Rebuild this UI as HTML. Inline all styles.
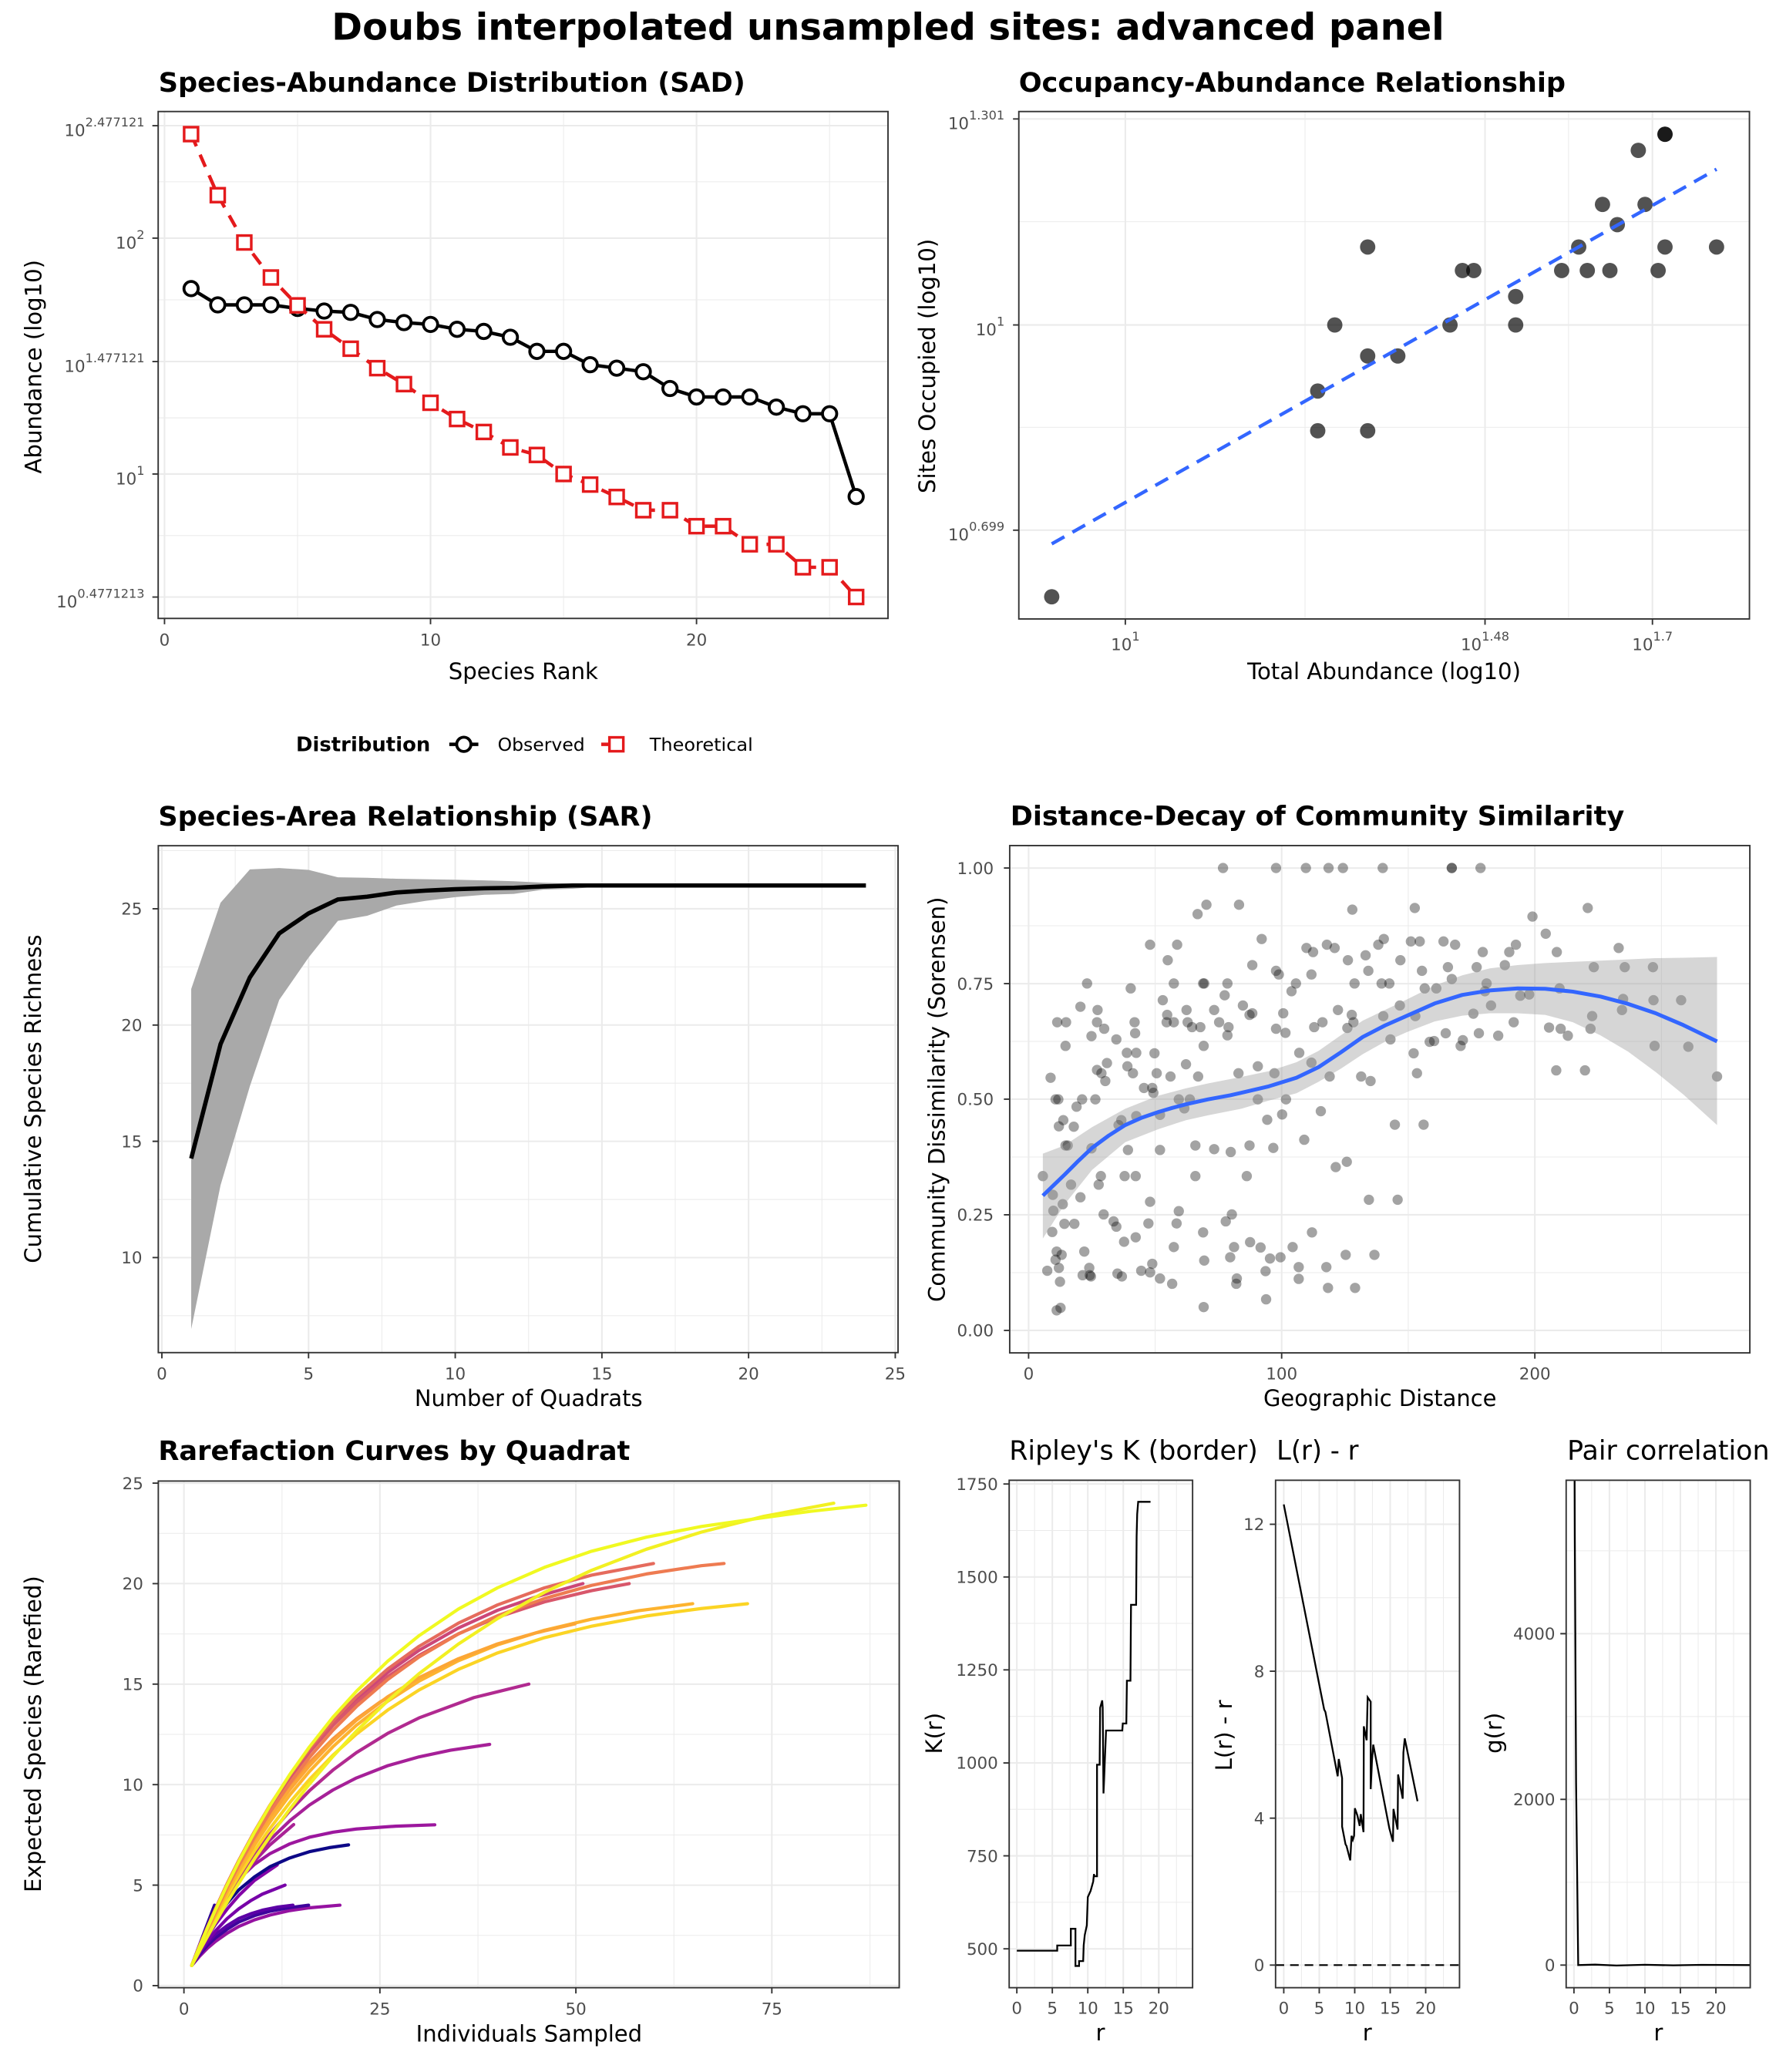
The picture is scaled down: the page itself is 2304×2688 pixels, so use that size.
<!DOCTYPE html>
<html><head><meta charset="utf-8"><style>
html,body{margin:0;padding:0;background:#fff;}
svg{display:block;}
text{font-family:"DejaVu Sans","Liberation Sans",sans-serif;}
.tk{font-size:12.5px;fill:#4D4D4D;}
.at{font-size:17px;fill:#000;}
.pt{font-size:20.5px;font-weight:bold;fill:#000;}
.mn{fill:none;stroke:#EBEBEB;stroke-width:0.6;}
.mj{fill:none;stroke:#EBEBEB;stroke-width:1.2;}
.bd{fill:none;stroke:#333333;stroke-width:1.1;}
.ti{fill:none;stroke:#333333;stroke-width:1.1;}
</style></head><body>
<svg xmlns="http://www.w3.org/2000/svg" width="2304" height="2688">
<rect x="0" y="0" width="2304" height="2688" fill="#fff"/>
<defs>
<clipPath id="cK"><rect x="763.7" y="1120.2" width="138.8" height="384"/></clipPath>
<clipPath id="cL"><rect x="965.3" y="1120.2" width="139.2" height="384"/></clipPath>
<clipPath id="cG"><rect x="1185.2" y="1120.2" width="139.3" height="384"/></clipPath>
<clipPath id="cD"><rect x="764.1" y="639.9" width="560.1" height="383.9"/></clipPath>
</defs>
<g transform="scale(1.7142857)">

<!-- Main title -->
<text x="672" y="30" text-anchor="middle" font-size="28" font-weight="bold" textLength="842" lengthAdjust="spacingAndGlyphs">Doubs interpolated unsampled sites: advanced panel</text>

<!-- ============ SAD ============ -->
<text class="pt" x="120" y="69.5" textLength="444" lengthAdjust="spacingAndGlyphs">Species-Abundance Distribution (SAD)</text>
<path class="mn" d="M225.2 84.4V468M426.5 84.4V468M627.8 84.4V468M119.7 137.6H672M119.7 226.9H672M119.7 316.2H672M119.7 405.3H672"/>
<path class="mj" d="M124.5 84.4V468M325.8 84.4V468M527.1 84.4V468M119.7 95.1H672M119.7 180.2H672M119.7 273.6H672M119.7 358.7H672M119.7 451.8H672"/>
<path class="ti" d="M115.3 95.1H119.7M115.3 180.2H119.7M115.3 273.6H119.7M115.3 358.7H119.7M115.3 451.8H119.7M124.5 468V472.4M325.8 468V472.4M527.1 468V472.4"/>
<g class="tk" text-anchor="end">
<text x="109.4" y="102.9">10<tspan dy="-7.3" font-size="9.4">2.477121</tspan></text>
<text x="109.4" y="188">10<tspan dy="-7.3" font-size="9.4">2</tspan></text>
<text x="109.4" y="281.4">10<tspan dy="-7.3" font-size="9.4">1.477121</tspan></text>
<text x="109.4" y="366.5">10<tspan dy="-7.3" font-size="9.4">1</tspan></text>
<text x="109.4" y="459.6">10<tspan dy="-7.3" font-size="9.4">0.4771213</tspan></text>
</g>
<g class="tk" text-anchor="middle">
<text x="124.5" y="488.6">0</text><text x="325.8" y="488.6">10</text><text x="527.1" y="488.6">20</text>
</g>
<text class="at" x="396" y="514" text-anchor="middle">Species Rank</text>
<text class="at" transform="translate(31.2,277.5) rotate(-90)" text-anchor="middle">Abundance (log10)</text>
<polyline fill="none" stroke="#000" stroke-width="2.6" points="144.6,218.4 164.8,230.7 184.9,230.7 205,230.7 225.2,233.4 245.3,235.4 265.4,236.4 285.5,241.8 305.7,244.1 325.8,245.5 345.9,249.2 366.1,250.8 386.2,255.2 406.3,265.9 426.5,265.9 446.6,276 466.7,278.6 486.8,281.3 507,294 527.1,300.4 547.2,300.4 567.4,300.4 587.5,308.1 607.6,313.1 627.8,313.1 647.9,375.8"/>
<polyline fill="none" stroke="#E41A1C" stroke-width="2.6" stroke-dasharray="10 7" points="144.6,101.5 164.8,147.7 184.9,183.5 205,210 225.2,231.1 245.3,249.2 265.4,263.9 285.5,278.6 305.7,290.7 325.8,304.8 345.9,317.1 366.1,326.9 386.2,338.6 406.3,344.3 426.5,358.7 446.6,366.7 466.7,376.1 486.8,386.1 507,386.1 527.1,398.2 547.2,398.2 567.4,411.9 587.5,411.9 607.6,429.3 627.8,429.3 647.9,451.8"/>
<g fill="#fff" stroke="#000" stroke-width="2.2">
<circle cx="144.6" cy="218.4" r="5.4"/><circle cx="164.8" cy="230.7" r="5.4"/><circle cx="184.9" cy="230.7" r="5.4"/><circle cx="205" cy="230.7" r="5.4"/><circle cx="225.2" cy="233.4" r="5.4"/><circle cx="245.3" cy="235.4" r="5.4"/><circle cx="265.4" cy="236.4" r="5.4"/><circle cx="285.5" cy="241.8" r="5.4"/><circle cx="305.7" cy="244.1" r="5.4"/><circle cx="325.8" cy="245.5" r="5.4"/><circle cx="345.9" cy="249.2" r="5.4"/><circle cx="366.1" cy="250.8" r="5.4"/><circle cx="386.2" cy="255.2" r="5.4"/><circle cx="406.3" cy="265.9" r="5.4"/><circle cx="426.5" cy="265.9" r="5.4"/><circle cx="446.6" cy="276" r="5.4"/><circle cx="466.7" cy="278.6" r="5.4"/><circle cx="486.8" cy="281.3" r="5.4"/><circle cx="507" cy="294" r="5.4"/><circle cx="527.1" cy="300.4" r="5.4"/><circle cx="547.2" cy="300.4" r="5.4"/><circle cx="567.4" cy="300.4" r="5.4"/><circle cx="587.5" cy="308.1" r="5.4"/><circle cx="607.6" cy="313.1" r="5.4"/><circle cx="627.8" cy="313.1" r="5.4"/><circle cx="647.9" cy="375.8" r="5.4"/>
</g>
<g fill="#fff" stroke="#E41A1C" stroke-width="2">
<rect x="139.35" y="96.25" width="10.5" height="10.5"/><rect x="159.55" y="142.45" width="10.5" height="10.5"/><rect x="179.65" y="178.25" width="10.5" height="10.5"/><rect x="199.75" y="204.75" width="10.5" height="10.5"/><rect x="219.95" y="225.85" width="10.5" height="10.5"/><rect x="240.05" y="243.95" width="10.5" height="10.5"/><rect x="260.15" y="258.65" width="10.5" height="10.5"/><rect x="280.25" y="273.35" width="10.5" height="10.5"/><rect x="300.45" y="285.45" width="10.5" height="10.5"/><rect x="320.55" y="299.55" width="10.5" height="10.5"/><rect x="340.65" y="311.85" width="10.5" height="10.5"/><rect x="360.85" y="321.65" width="10.5" height="10.5"/><rect x="380.95" y="333.35" width="10.5" height="10.5"/><rect x="401.05" y="339.05" width="10.5" height="10.5"/><rect x="421.25" y="353.45" width="10.5" height="10.5"/><rect x="441.35" y="361.45" width="10.5" height="10.5"/><rect x="461.45" y="370.85" width="10.5" height="10.5"/><rect x="481.55" y="380.85" width="10.5" height="10.5"/><rect x="501.75" y="380.85" width="10.5" height="10.5"/><rect x="521.85" y="392.95" width="10.5" height="10.5"/><rect x="541.95" y="392.95" width="10.5" height="10.5"/><rect x="562.15" y="406.65" width="10.5" height="10.5"/><rect x="582.25" y="406.65" width="10.5" height="10.5"/><rect x="602.35" y="424.05" width="10.5" height="10.5"/><rect x="622.55" y="424.05" width="10.5" height="10.5"/><rect x="642.65" y="446.55" width="10.5" height="10.5"/>
</g>
<rect class="bd" x="119.7" y="84.4" width="552.3" height="383.6"/>

<!-- Legend -->
<text x="224" y="568.5" font-size="15" font-weight="bold" textLength="101.7" lengthAdjust="spacingAndGlyphs">Distribution</text>
<line x1="340" y1="563.3" x2="362" y2="563.3" stroke="#000" stroke-width="2.6"/>
<circle cx="351" cy="563.3" r="5.4" fill="#fff" stroke="#000" stroke-width="2.2"/>
<text x="376.6" y="568.3" font-size="13.6" textLength="66" lengthAdjust="spacingAndGlyphs">Observed</text>
<line x1="455" y1="563.3" x2="466" y2="563.3" stroke="#E41A1C" stroke-width="2.6"/>
<rect x="461.2" y="558" width="10.5" height="10.5" fill="#fff" stroke="#E41A1C" stroke-width="2"/>
<text x="491.6" y="568.3" font-size="13.6" textLength="78.2" lengthAdjust="spacingAndGlyphs">Theoretical</text>

<!-- ============ Occupancy ============ -->
<text class="pt" x="771" y="69.5" textLength="413.8" lengthAdjust="spacingAndGlyphs">Occupancy-Abundance Relationship</text>
<path class="mn" d="M987.6 84.4V468.4M1187 84.4V468.4M771 167.8H1323.9M771 323.4H1323.9"/>
<path class="mj" d="M851.6 84.4V468.4M1123.8 84.4V468.4M1250.5 84.4V468.4M771 90H1323.9M771 245.9H1323.9M771 401.2H1323.9"/>
<path class="ti" d="M766.6 90H771M766.6 245.9H771M766.6 401.2H771M851.6 468.4V472.8M1123.8 468.4V472.8M1250.5 468.4V472.8"/>
<g class="tk" text-anchor="end">
<text x="760.2" y="97.8">10<tspan dy="-7.3" font-size="9.4">1.301</tspan></text>
<text x="760.2" y="253.7">10<tspan dy="-7.3" font-size="9.4">1</tspan></text>
<text x="760.2" y="409">10<tspan dy="-7.3" font-size="9.4">0.699</tspan></text>
</g>
<g class="tk" text-anchor="middle">
<text x="851.6" y="492">10<tspan dy="-7.3" font-size="9.4">1</tspan></text>
<text x="1123.8" y="492">10<tspan dy="-7.3" font-size="9.4">1.48</tspan></text>
<text x="1250.5" y="492">10<tspan dy="-7.3" font-size="9.4">1.7</tspan></text>
</g>
<text class="at" x="1047.4" y="514" text-anchor="middle" textLength="207" lengthAdjust="spacingAndGlyphs">Total Abundance (log10)</text>
<text class="at" transform="translate(707.5,277) rotate(-90)" text-anchor="middle">Sites Occupied (log10)</text>
<g fill="#000" fill-opacity="0.68">
<circle cx="795.9" cy="451.6" r="5.8"/><circle cx="997.2" cy="295.9" r="5.8"/><circle cx="997.2" cy="326" r="5.8"/><circle cx="1010.1" cy="245.9" r="5.8"/><circle cx="1035" cy="186.9" r="5.8"/><circle cx="1035" cy="269.4" r="5.8"/><circle cx="1035" cy="326" r="5.8"/><circle cx="1057.8" cy="269.4" r="5.8"/><circle cx="1097.3" cy="245.9" r="5.8"/><circle cx="1106.7" cy="204.7" r="5.8"/><circle cx="1115.3" cy="204.7" r="5.8"/><circle cx="1147" cy="224.4" r="5.8"/><circle cx="1147" cy="245.9" r="5.8"/><circle cx="1181.8" cy="204.7" r="5.8"/><circle cx="1194.7" cy="186.9" r="5.8"/><circle cx="1201.2" cy="204.7" r="5.8"/><circle cx="1212.7" cy="154.7" r="5.8"/><circle cx="1218.3" cy="204.7" r="5.8"/><circle cx="1223.9" cy="170" r="5.8"/><circle cx="1239.8" cy="113.8" r="5.8"/><circle cx="1244.9" cy="154.7" r="5.8"/><circle cx="1254.8" cy="204.7" r="5.8"/><circle cx="1260" cy="101.6" r="5.8"/><circle cx="1260" cy="101.6" r="5.8"/><circle cx="1260" cy="186.9" r="5.8"/><circle cx="1299" cy="186.9" r="5.8"/>
</g>
<line x1="795.9" y1="411.6" x2="1299" y2="128.1" stroke="#3366FF" stroke-width="2.6" stroke-dasharray="11 7"/>
<rect class="bd" x="771" y="84.4" width="552.9" height="384"/>

<!-- ============ SAR ============ -->
<text class="pt" x="119.8" y="624.7" textLength="374" lengthAdjust="spacingAndGlyphs">Species-Area Relationship (SAR)</text>
<path class="mn" d="M178 640V1023.6M289 640V1023.6M400 640V1023.6M511 640V1023.6M622 640V1023.6M119.8 643.7H679.6M119.8 731.7H679.6M119.8 819.7H679.6M119.8 907.7H679.6M119.8 995.7H679.6"/>
<path class="mj" d="M122.5 640V1023.6M233.5 640V1023.6M344.5 640V1023.6M455.5 640V1023.6M566.5 640V1023.6M677.5 640V1023.6M119.8 687.7H679.6M119.8 775.7H679.6M119.8 863.7H679.6M119.8 951.7H679.6"/>
<path class="ti" d="M115.4 687.7H119.8M115.4 775.7H119.8M115.4 863.7H119.8M115.4 951.7H119.8M122.5 1023.6V1028M233.5 1023.6V1028M344.5 1023.6V1028M455.5 1023.6V1028M566.5 1023.6V1028M677.5 1023.6V1028"/>
<g class="tk" text-anchor="end">
<text x="107.6" y="692.2">25</text><text x="107.6" y="780.2">20</text><text x="107.6" y="868.2">15</text><text x="107.6" y="956.2">10</text>
</g>
<g class="tk" text-anchor="middle">
<text x="122.5" y="1044">0</text><text x="233.5" y="1044">5</text><text x="344.5" y="1044">10</text><text x="455.5" y="1044">15</text><text x="566.5" y="1044">20</text><text x="677.5" y="1044">25</text>
</g>
<text class="at" x="400" y="1064" text-anchor="middle" textLength="172.5" lengthAdjust="spacingAndGlyphs">Number of Quadrats</text>
<text class="at" transform="translate(31,831.6) rotate(-90)" text-anchor="middle">Cumulative Species Richness</text>
<g transform="matrix(22.2,0,0,-17.6,122.5,1127.7)">
<polygon fill="#A9A9A9" points="1,21.55 2,25.26 3,26.69 4,26.75 5,26.67 6,26.35 7,26.33 8,26.29 9,26.27 10,26.25 11,26.22 12,26.18 13,26.12 14,26.08 15,26.04 16,26.01 24,26 24,26 16,26 15,25.96 14,25.86 13,25.82 12,25.64 11,25.6 10,25.5 9,25.34 8,25.14 7,24.7 6,24.48 5,22.9 4,21.08 3,17.37 2,13.11 1,6.93"/>
<polyline fill="none" stroke="#000" stroke-width="5.6" vector-effect="non-scaling-stroke" points="1,14.26 2,19.18 3,22.05 4,23.94 5,24.8 6,25.4 7,25.52 8,25.7 9,25.78 10,25.84 11,25.88 12,25.9 13,25.96 14,26 24,26"/>
</g>
<rect class="bd" x="119.8" y="640" width="559.8" height="383.6"/>

<!-- ============ Distance decay ============ -->
<text class="pt" x="764.6" y="624.6" textLength="464.6" lengthAdjust="spacingAndGlyphs">Distance-Decay of Community Similarity</text>
<path class="mn" d="M874.2 639.9V1023.8M1065.7 639.9V1023.8M1257.3 639.9V1023.8M764.1 700.6H1324.2M764.1 788.1H1324.2M764.1 875.6H1324.2M764.1 963.1H1324.2"/>
<path class="mj" d="M778.4 639.9V1023.8M969.9 639.9V1023.8M1161.5 639.9V1023.8M764.1 656.9H1324.2M764.1 744.4H1324.2M764.1 831.8H1324.2M764.1 919.3H1324.2M764.1 1006.8H1324.2"/>
<path class="ti" d="M759.7 656.9H764.1M759.7 744.4H764.1M759.7 831.8H764.1M759.7 919.3H764.1M759.7 1006.8H764.1M778.4 1023.8V1028.2M969.9 1023.8V1028.2M1161.5 1023.8V1028.2"/>
<g class="tk" text-anchor="end">
<text x="752" y="661.4">1.00</text><text x="752" y="748.9">0.75</text><text x="752" y="836.3">0.50</text><text x="752" y="923.8">0.25</text><text x="752" y="1011.3">0.00</text>
</g>
<g class="tk" text-anchor="middle">
<text x="778.4" y="1044">0</text><text x="969.9" y="1044">100</text><text x="1161.5" y="1044">200</text>
</g>
<text class="at" x="1044.3" y="1064" text-anchor="middle" textLength="176.5" lengthAdjust="spacingAndGlyphs">Geographic Distance</text>
<text class="at" transform="translate(714.8,832) rotate(-90)" text-anchor="middle">Community Dissimilarity (Sorensen)</text>
<g clip-path="url(#cD)">
<g transform="matrix(0.4182,0,0,0.3088,688.4,595.1)">
<g fill="#000" fill-opacity="0.36">
<ellipse cx="567" cy="200" rx="9.33" ry="12.63"/><ellipse cx="663" cy="200" rx="9.33" ry="12.63"/><ellipse cx="717" cy="200" rx="9.33" ry="12.63"/><ellipse cx="758" cy="200" rx="9.33" ry="12.63"/><ellipse cx="784" cy="200" rx="9.33" ry="12.63"/><ellipse cx="856" cy="200" rx="9.33" ry="12.63"/><ellipse cx="981" cy="200" rx="9.33" ry="12.63"/><ellipse cx="981" cy="200" rx="9.33" ry="12.63"/><ellipse cx="1033" cy="200" rx="9.33" ry="12.63"/>
<ellipse cx="537" cy="290" rx="9.33" ry="12.63"/><ellipse cx="596" cy="290" rx="9.33" ry="12.63"/><ellipse cx="521" cy="313" rx="9.33" ry="12.63"/><ellipse cx="801" cy="302" rx="9.33" ry="12.63"/><ellipse cx="914" cy="298" rx="9.33" ry="12.63"/><ellipse cx="1227" cy="298" rx="9.33" ry="12.63"/><ellipse cx="1127" cy="319" rx="9.33" ry="12.63"/>
<ellipse cx="435" cy="388" rx="9.33" ry="12.63"/><ellipse cx="484" cy="388" rx="9.33" ry="12.63"/><ellipse cx="637" cy="374" rx="9.33" ry="12.63"/><ellipse cx="755" cy="388" rx="9.33" ry="12.63"/><ellipse cx="769" cy="396" rx="9.33" ry="12.63"/><ellipse cx="718" cy="396" rx="9.33" ry="12.63"/><ellipse cx="730" cy="406" rx="9.33" ry="12.63"/><ellipse cx="858" cy="374" rx="9.33" ry="12.63"/><ellipse cx="907" cy="380" rx="9.33" ry="12.63"/><ellipse cx="923" cy="380" rx="9.33" ry="12.63"/><ellipse cx="966" cy="380" rx="9.33" ry="12.63"/><ellipse cx="987" cy="388" rx="9.33" ry="12.63"/><ellipse cx="848" cy="388" rx="9.33" ry="12.63"/><ellipse cx="1097" cy="388" rx="9.33" ry="12.63"/><ellipse cx="1151" cy="361" rx="9.33" ry="12.63"/><ellipse cx="1171" cy="406" rx="9.33" ry="12.63"/><ellipse cx="1037" cy="406" rx="9.33" ry="12.63"/><ellipse cx="1085" cy="406" rx="9.33" ry="12.63"/><ellipse cx="1283" cy="396" rx="9.33" ry="12.63"/><ellipse cx="825" cy="414" rx="9.33" ry="12.63"/>
<ellipse cx="467" cy="426" rx="9.33" ry="12.63"/><ellipse cx="620" cy="438" rx="9.33" ry="12.63"/><ellipse cx="663" cy="452" rx="9.33" ry="12.63"/><ellipse cx="668" cy="461" rx="9.33" ry="12.63"/><ellipse cx="793" cy="426" rx="9.33" ry="12.63"/><ellipse cx="830" cy="452" rx="9.33" ry="12.63"/><ellipse cx="888" cy="426" rx="9.33" ry="12.63"/><ellipse cx="927" cy="452" rx="9.33" ry="12.63"/><ellipse cx="974" cy="443" rx="9.33" ry="12.63"/><ellipse cx="1026" cy="443" rx="9.33" ry="12.63"/><ellipse cx="1077" cy="438" rx="9.33" ry="12.63"/><ellipse cx="1238" cy="443" rx="9.33" ry="12.63"/><ellipse cx="1294" cy="443" rx="9.33" ry="12.63"/><ellipse cx="1345" cy="443" rx="9.33" ry="12.63"/><ellipse cx="727" cy="461" rx="9.33" ry="12.63"/>
<ellipse cx="321" cy="483" rx="9.33" ry="12.63"/><ellipse cx="400" cy="495" rx="9.33" ry="12.63"/><ellipse cx="478" cy="483" rx="9.33" ry="12.63"/><ellipse cx="531" cy="483" rx="9.33" ry="12.63"/><ellipse cx="533" cy="483" rx="9.33" ry="12.63"/><ellipse cx="575" cy="483" rx="9.33" ry="12.63"/><ellipse cx="699" cy="483" rx="9.33" ry="12.63"/><ellipse cx="691" cy="502" rx="9.33" ry="12.63"/><ellipse cx="805" cy="483" rx="9.33" ry="12.63"/><ellipse cx="854" cy="483" rx="9.33" ry="12.63"/><ellipse cx="868" cy="483" rx="9.33" ry="12.63"/><ellipse cx="932" cy="495" rx="9.33" ry="12.63"/><ellipse cx="953" cy="495" rx="9.33" ry="12.63"/><ellipse cx="981" cy="472" rx="9.33" ry="12.63"/><ellipse cx="1044" cy="483" rx="9.33" ry="12.63"/><ellipse cx="1041" cy="502" rx="9.33" ry="12.63"/><ellipse cx="1105" cy="513" rx="9.33" ry="12.63"/><ellipse cx="1121" cy="510" rx="9.33" ry="12.63"/><ellipse cx="1176" cy="495" rx="9.33" ry="12.63"/><ellipse cx="1291" cy="521" rx="9.33" ry="12.63"/><ellipse cx="1346" cy="524" rx="9.33" ry="12.63"/><ellipse cx="1396" cy="524" rx="9.33" ry="12.63"/>
<ellipse cx="309" cy="540" rx="9.33" ry="12.63"/><ellipse cx="340" cy="548" rx="9.33" ry="12.63"/><ellipse cx="458" cy="524" rx="9.33" ry="12.63"/><ellipse cx="570" cy="512" rx="9.33" ry="12.63"/><ellipse cx="466" cy="560" rx="9.33" ry="12.63"/><ellipse cx="501" cy="548" rx="9.33" ry="12.63"/><ellipse cx="551" cy="548" rx="9.33" ry="12.63"/><ellipse cx="603" cy="537" rx="9.33" ry="12.63"/><ellipse cx="615" cy="560" rx="9.33" ry="12.63"/><ellipse cx="620" cy="556" rx="9.33" ry="12.63"/><ellipse cx="676" cy="556" rx="9.33" ry="12.63"/><ellipse cx="775" cy="548" rx="9.33" ry="12.63"/><ellipse cx="800" cy="560" rx="9.33" ry="12.63"/><ellipse cx="887" cy="537" rx="9.33" ry="12.63"/><ellipse cx="857" cy="563" rx="9.33" ry="12.63"/><ellipse cx="915" cy="563" rx="9.33" ry="12.63"/><ellipse cx="1052" cy="537" rx="9.33" ry="12.63"/><ellipse cx="1020" cy="557" rx="9.33" ry="12.63"/><ellipse cx="1235" cy="563" rx="9.33" ry="12.63"/><ellipse cx="1289" cy="548" rx="9.33" ry="12.63"/>
<ellipse cx="267" cy="578" rx="9.33" ry="12.63"/><ellipse cx="283" cy="578" rx="9.33" ry="12.63"/><ellipse cx="339" cy="578" rx="9.33" ry="12.63"/><ellipse cx="407" cy="578" rx="9.33" ry="12.63"/><ellipse cx="352" cy="594" rx="9.33" ry="12.63"/><ellipse cx="408" cy="605" rx="9.33" ry="12.63"/><ellipse cx="329" cy="612" rx="9.33" ry="12.63"/><ellipse cx="465" cy="578" rx="9.33" ry="12.63"/><ellipse cx="478" cy="578" rx="9.33" ry="12.63"/><ellipse cx="503" cy="578" rx="9.33" ry="12.63"/><ellipse cx="511" cy="590" rx="9.33" ry="12.63"/><ellipse cx="526" cy="590" rx="9.33" ry="12.63"/><ellipse cx="560" cy="578" rx="9.33" ry="12.63"/><ellipse cx="577" cy="590" rx="9.33" ry="12.63"/><ellipse cx="663" cy="594" rx="9.33" ry="12.63"/><ellipse cx="680" cy="604" rx="9.33" ry="12.63"/><ellipse cx="747" cy="578" rx="9.33" ry="12.63"/><ellipse cx="732" cy="590" rx="9.33" ry="12.63"/><ellipse cx="792" cy="592" rx="9.33" ry="12.63"/><ellipse cx="803" cy="578" rx="9.33" ry="12.63"/><ellipse cx="870" cy="620" rx="9.33" ry="12.63"/><ellipse cx="941" cy="626" rx="9.33" ry="12.63"/><ellipse cx="949" cy="624" rx="9.33" ry="12.63"/><ellipse cx="970" cy="605" rx="9.33" ry="12.63"/><ellipse cx="1001" cy="622" rx="9.33" ry="12.63"/><ellipse cx="997" cy="636" rx="9.33" ry="12.63"/><ellipse cx="1030" cy="605" rx="9.33" ry="12.63"/><ellipse cx="1065" cy="611" rx="9.33" ry="12.63"/><ellipse cx="1093" cy="578" rx="9.33" ry="12.63"/><ellipse cx="1157" cy="591" rx="9.33" ry="12.63"/><ellipse cx="1178" cy="594" rx="9.33" ry="12.63"/><ellipse cx="1191" cy="611" rx="9.33" ry="12.63"/><ellipse cx="1232" cy="594" rx="9.33" ry="12.63"/><ellipse cx="1348" cy="636" rx="9.33" ry="12.63"/><ellipse cx="1409" cy="638" rx="9.33" ry="12.63"/>
<ellipse cx="282" cy="636" rx="9.33" ry="12.63"/><ellipse cx="374" cy="620" rx="9.33" ry="12.63"/><ellipse cx="532" cy="636" rx="9.33" ry="12.63"/><ellipse cx="575" cy="610" rx="9.33" ry="12.63"/>
<ellipse cx="393" cy="653" rx="9.33" ry="12.63"/><ellipse cx="410" cy="653" rx="9.33" ry="12.63"/><ellipse cx="443" cy="654" rx="9.33" ry="12.63"/><ellipse cx="500" cy="681" rx="9.33" ry="12.63"/><ellipse cx="357" cy="678" rx="9.33" ry="12.63"/><ellipse cx="394" cy="686" rx="9.33" ry="12.63"/><ellipse cx="339" cy="695" rx="9.33" ry="12.63"/><ellipse cx="347" cy="703" rx="9.33" ry="12.63"/><ellipse cx="404" cy="703" rx="9.33" ry="12.63"/><ellipse cx="447" cy="703" rx="9.33" ry="12.63"/><ellipse cx="472" cy="711" rx="9.33" ry="12.63"/><ellipse cx="522" cy="711" rx="9.33" ry="12.63"/><ellipse cx="595" cy="703" rx="9.33" ry="12.63"/><ellipse cx="630" cy="686" rx="9.33" ry="12.63"/><ellipse cx="660" cy="703" rx="9.33" ry="12.63"/><ellipse cx="705" cy="653" rx="9.33" ry="12.63"/><ellipse cx="727" cy="677" rx="9.33" ry="12.63"/><ellipse cx="760" cy="711" rx="9.33" ry="12.63"/><ellipse cx="817" cy="711" rx="9.33" ry="12.63"/><ellipse cx="834" cy="722" rx="9.33" ry="12.63"/><ellipse cx="912" cy="654" rx="9.33" ry="12.63"/><ellipse cx="918" cy="703" rx="9.33" ry="12.63"/><ellipse cx="1170" cy="696" rx="9.33" ry="12.63"/><ellipse cx="1222" cy="696" rx="9.33" ry="12.63"/><ellipse cx="1461" cy="711" rx="9.33" ry="12.63"/>
<ellipse cx="255" cy="714" rx="9.33" ry="12.63"/><ellipse cx="354" cy="722" rx="9.33" ry="12.63"/><ellipse cx="424" cy="739" rx="9.33" ry="12.63"/><ellipse cx="439" cy="739" rx="9.33" ry="12.63"/><ellipse cx="441" cy="751" rx="9.33" ry="12.63"/><ellipse cx="264" cy="767" rx="9.33" ry="12.63"/><ellipse cx="269" cy="767" rx="9.33" ry="12.63"/><ellipse cx="312" cy="767" rx="9.33" ry="12.63"/><ellipse cx="336" cy="767" rx="9.33" ry="12.63"/><ellipse cx="487" cy="767" rx="9.33" ry="12.63"/><ellipse cx="507" cy="767" rx="9.33" ry="12.63"/><ellipse cx="630" cy="767" rx="9.33" ry="12.63"/><ellipse cx="681" cy="767" rx="9.33" ry="12.63"/>
<ellipse cx="278" cy="818" rx="9.33" ry="12.63"/><ellipse cx="302" cy="785" rx="9.33" ry="12.63"/><ellipse cx="270" cy="833" rx="9.33" ry="12.63"/><ellipse cx="297" cy="834" rx="9.33" ry="12.63"/><ellipse cx="383" cy="818" rx="9.33" ry="12.63"/><ellipse cx="378" cy="830" rx="9.33" ry="12.63"/><ellipse cx="410" cy="808" rx="9.33" ry="12.63"/><ellipse cx="453" cy="805" rx="9.33" ry="12.63"/><ellipse cx="497" cy="789" rx="9.33" ry="12.63"/><ellipse cx="647" cy="817" rx="9.33" ry="12.63"/><ellipse cx="674" cy="804" rx="9.33" ry="12.63"/><ellipse cx="744" cy="796" rx="9.33" ry="12.63"/><ellipse cx="878" cy="829" rx="9.33" ry="12.63"/><ellipse cx="930" cy="829" rx="9.33" ry="12.63"/>
<ellipse cx="282" cy="880" rx="9.33" ry="12.63"/><ellipse cx="286" cy="880" rx="9.33" ry="12.63"/><ellipse cx="329" cy="887" rx="9.33" ry="12.63"/><ellipse cx="395" cy="891" rx="9.33" ry="12.63"/><ellipse cx="453" cy="891" rx="9.33" ry="12.63"/><ellipse cx="517" cy="880" rx="9.33" ry="12.63"/><ellipse cx="551" cy="889" rx="9.33" ry="12.63"/><ellipse cx="581" cy="896" rx="9.33" ry="12.63"/><ellipse cx="615" cy="880" rx="9.33" ry="12.63"/><ellipse cx="658" cy="886" rx="9.33" ry="12.63"/><ellipse cx="714" cy="866" rx="9.33" ry="12.63"/>
<ellipse cx="241" cy="955" rx="9.33" ry="12.63"/><ellipse cx="292" cy="976" rx="9.33" ry="12.63"/><ellipse cx="309" cy="1007" rx="9.33" ry="12.63"/><ellipse cx="342" cy="976" rx="9.33" ry="12.63"/><ellipse cx="346" cy="955" rx="9.33" ry="12.63"/><ellipse cx="389" cy="955" rx="9.33" ry="12.63"/><ellipse cx="409" cy="955" rx="9.33" ry="12.63"/><ellipse cx="517" cy="955" rx="9.33" ry="12.63"/><ellipse cx="610" cy="955" rx="9.33" ry="12.63"/><ellipse cx="771" cy="933" rx="9.33" ry="12.63"/><ellipse cx="791" cy="920" rx="9.33" ry="12.63"/>
<ellipse cx="259" cy="1001" rx="9.33" ry="12.63"/><ellipse cx="260" cy="1040" rx="9.33" ry="12.63"/><ellipse cx="277" cy="1024" rx="9.33" ry="12.63"/><ellipse cx="351" cy="1049" rx="9.33" ry="12.63"/><ellipse cx="435" cy="1018" rx="9.33" ry="12.63"/><ellipse cx="487" cy="1041" rx="9.33" ry="12.63"/><ellipse cx="583" cy="1049" rx="9.33" ry="12.63"/><ellipse cx="572" cy="1066" rx="9.33" ry="12.63"/><ellipse cx="831" cy="1013" rx="9.33" ry="12.63"/><ellipse cx="883" cy="1013" rx="9.33" ry="12.63"/>
<ellipse cx="258" cy="1092" rx="9.33" ry="12.63"/><ellipse cx="280" cy="1072" rx="9.33" ry="12.63"/><ellipse cx="298" cy="1072" rx="9.33" ry="12.63"/><ellipse cx="369" cy="1066" rx="9.33" ry="12.63"/><ellipse cx="374" cy="1079" rx="9.33" ry="12.63"/><ellipse cx="432" cy="1071" rx="9.33" ry="12.63"/><ellipse cx="483" cy="1071" rx="9.33" ry="12.63"/><ellipse cx="531" cy="1093" rx="9.33" ry="12.63"/><ellipse cx="728" cy="1093" rx="9.33" ry="12.63"/>
<ellipse cx="266" cy="1140" rx="9.33" ry="12.63"/><ellipse cx="316" cy="1140" rx="9.33" ry="12.63"/><ellipse cx="388" cy="1116" rx="9.33" ry="12.63"/><ellipse cx="409" cy="1105" rx="9.33" ry="12.63"/><ellipse cx="478" cy="1129" rx="9.33" ry="12.63"/><ellipse cx="587" cy="1129" rx="9.33" ry="12.63"/><ellipse cx="616" cy="1117" rx="9.33" ry="12.63"/><ellipse cx="635" cy="1130" rx="9.33" ry="12.63"/><ellipse cx="693" cy="1129" rx="9.33" ry="12.63"/><ellipse cx="789" cy="1148" rx="9.33" ry="12.63"/><ellipse cx="841" cy="1148" rx="9.33" ry="12.63"/>
<ellipse cx="249" cy="1187" rx="9.33" ry="12.63"/><ellipse cx="264" cy="1160" rx="9.33" ry="12.63"/><ellipse cx="270" cy="1180" rx="9.33" ry="12.63"/><ellipse cx="275" cy="1148" rx="9.33" ry="12.63"/><ellipse cx="325" cy="1180" rx="9.33" ry="12.63"/><ellipse cx="326" cy="1198" rx="9.33" ry="12.63"/><ellipse cx="328" cy="1201" rx="9.33" ry="12.63"/><ellipse cx="313" cy="1198" rx="9.33" ry="12.63"/><ellipse cx="376" cy="1194" rx="9.33" ry="12.63"/><ellipse cx="384" cy="1201" rx="9.33" ry="12.63"/><ellipse cx="419" cy="1187" rx="9.33" ry="12.63"/><ellipse cx="435" cy="1191" rx="9.33" ry="12.63"/><ellipse cx="439" cy="1170" rx="9.33" ry="12.63"/><ellipse cx="453" cy="1206" rx="9.33" ry="12.63"/><ellipse cx="475" cy="1219" rx="9.33" ry="12.63"/><ellipse cx="533" cy="1162" rx="9.33" ry="12.63"/><ellipse cx="580" cy="1154" rx="9.33" ry="12.63"/><ellipse cx="592" cy="1206" rx="9.33" ry="12.63"/><ellipse cx="591" cy="1219" rx="9.33" ry="12.63"/><ellipse cx="644" cy="1188" rx="9.33" ry="12.63"/><ellipse cx="652" cy="1157" rx="9.33" ry="12.63"/><ellipse cx="671" cy="1154" rx="9.33" ry="12.63"/><ellipse cx="704" cy="1178" rx="9.33" ry="12.63"/><ellipse cx="704" cy="1207" rx="9.33" ry="12.63"/><ellipse cx="754" cy="1178" rx="9.33" ry="12.63"/><ellipse cx="757" cy="1229" rx="9.33" ry="12.63"/><ellipse cx="806" cy="1229" rx="9.33" ry="12.63"/>
<ellipse cx="272" cy="1214" rx="9.33" ry="12.63"/><ellipse cx="266" cy="1284" rx="9.33" ry="12.63"/><ellipse cx="273" cy="1278" rx="9.33" ry="12.63"/><ellipse cx="532" cy="1276" rx="9.33" ry="12.63"/><ellipse cx="645" cy="1257" rx="9.33" ry="12.63"/>
</g>
<polygon fill="#999999" fill-opacity="0.4" points="241,900 280,880 330,835 390,790 450,758 500,740 540,728 600,712 650,698 700,676 740,648 780,610 820,574 860,548 900,522 950,488 1000,463 1050,446 1100,438 1150,433 1200,430 1250,427 1300,424 1350,421 1400,420 1461,418 1461,830 1400,755 1350,700 1300,650 1250,610 1200,578 1150,560 1100,556 1050,556 1000,562 950,576 900,602 860,626 820,656 780,692 740,724 700,752 650,770 600,790 540,806 500,818 450,840 390,872 330,940 280,1025 241,1108"/>
<polyline fill="none" stroke="#3366FF" stroke-width="5" stroke-linejoin="round" vector-effect="non-scaling-stroke" points="241,1003 260,978 280,952 305,918 330,886 360,856 390,830 420,812 450,798 475,788 500,779 540,767 580,757 600,751 650,735 700,714 740,688 780,652 820,614 860,586 900,562 950,532 1000,511 1050,500 1100,495 1150,496 1200,503 1250,515 1300,533 1350,556 1400,585 1461,625"/>
</g>
</g>
<rect class="bd" x="764.1" y="639.9" width="560.1" height="383.9"/>

<!-- ============ Rarefaction ============ -->
<text class="pt" x="119.8" y="1104.8" textLength="357" lengthAdjust="spacingAndGlyphs">Rarefaction Curves by Quadrat</text>
<path class="mn" d="M213.4 1120.8V1504.2M361.7 1120.8V1504.2M510 1120.8V1504.2M658.4 1120.8V1504.2M119.8 1160.4H680.5M119.8 1236.5H680.5M119.8 1312.5H680.5M119.8 1388.6H680.5M119.8 1464.6H680.5"/>
<path class="mj" d="M139.2 1120.8V1504.2M287.5 1120.8V1504.2M435.8 1120.8V1504.2M584.1 1120.8V1504.2M119.8 1122.4H680.5M119.8 1198.4H680.5M119.8 1274.5H680.5M119.8 1350.5H680.5M119.8 1426.6H680.5M119.8 1502.6H680.5"/>
<path class="ti" d="M115.4 1122.4H119.8M115.4 1198.4H119.8M115.4 1274.5H119.8M115.4 1350.5H119.8M115.4 1426.6H119.8M115.4 1502.6H119.8M139.2 1504.2V1508.6M287.5 1504.2V1508.6M435.8 1504.2V1508.6M584.1 1504.2V1508.6"/>
<g class="tk" text-anchor="end">
<text x="108.4" y="1126.9">25</text><text x="108.4" y="1202.9">20</text><text x="108.4" y="1279">15</text><text x="108.4" y="1355">10</text><text x="108.4" y="1431.1">5</text><text x="108.4" y="1507.1">0</text>
</g>
<g class="tk" text-anchor="middle">
<text x="139.2" y="1524.5">0</text><text x="287.5" y="1524.5">25</text><text x="435.8" y="1524.5">50</text><text x="584.1" y="1524.5">75</text>
</g>
<text class="at" x="400.4" y="1545" text-anchor="middle" textLength="171.2" lengthAdjust="spacingAndGlyphs">Individuals Sampled</text>
<text class="at" transform="translate(31,1312.3) rotate(-90)" text-anchor="middle">Expected Species (Rarefied)</text>
<g transform="matrix(5.932,0,0,-15.21,139.2,1502.6)" fill="none" stroke-linejoin="round" stroke-linecap="round">
<polyline vector-effect="non-scaling-stroke" stroke-width="4.2" stroke="#2C0594" points="1,1 3.9,4"/>
<polyline vector-effect="non-scaling-stroke" stroke-width="4.2" stroke="#9512A1" points="1,1 2,1.46 3,1.86 4,2.19 5.5,2.6 7,2.94 9,3.27 11,3.51 13.5,3.73 16,3.87 19.9,4"/>
<polyline vector-effect="non-scaling-stroke" stroke-width="4.2" stroke="#3E049C" points="1,1 2,1.55 3,2.0 4,2.37 5.5,2.8 7,3.16 9,3.48 11,3.7 13.5,3.88 15.9,4"/>
<polyline vector-effect="non-scaling-stroke" stroke-width="4.2" stroke="#5C01A6" points="1,1 2,1.63 3,2.13 4,2.54 5.5,2.98 7,3.34 8.5,3.57 10,3.75 12,3.91 13.9,4"/>
<polyline vector-effect="non-scaling-stroke" stroke-width="4.2" stroke="#7701A8" points="1,1 2,1.65 3,2.22 4,2.71 5.5,3.33 7,3.82 8.5,4.22 10,4.55 12.9,5"/>
<polyline vector-effect="non-scaling-stroke" stroke-width="4.2" stroke="#8405A7" points="1,1 2,1.76 3,2.43 4,3.03 5.5,3.8 7,4.48 9,5.23 11.9,6"/>
<polyline vector-effect="non-scaling-stroke" stroke-width="4.2" stroke="#0D0887" points="1,1 2,1.88 3,2.64 4,3.29 5.5,4.1 7,4.76 9,5.41 11,5.92 13.5,6.35 16,6.66 18.5,6.86 21,7"/>
<polyline vector-effect="non-scaling-stroke" stroke-width="4.2" stroke="#F48849" points="1,1 2,1.95 3,2.8 4,3.55 5.5,4.56 7,5.38 9,6.29 10.9,7"/>
<polyline vector-effect="non-scaling-stroke" stroke-width="4.2" stroke="#A92395" points="1,1 2,1.86 3,2.65 4,3.38 5.5,4.38 7,5.21 9,6.2 11,7.01 14,8.01"/>
<polyline vector-effect="non-scaling-stroke" stroke-width="4.2" stroke="#9C179E" points="1,1 2,2.02 3,2.89 4,3.64 5.5,4.56 7,5.29 9,6.03 11,6.57 13.5,7.05 16,7.38 19,7.63 22,7.79 27,7.93 32,8"/>
<polyline vector-effect="non-scaling-stroke" stroke-width="4.2" stroke="#A62098" points="1,1 2,1.87 3,2.67 4,3.41 5.5,4.42 7,5.32 9,6.37 11,7.26 13.5,8.2 16,8.98 19,9.73 22,10.33 26,10.94 30,11.38 34,11.71 39,12"/>
<polyline vector-effect="non-scaling-stroke" stroke-width="4.2" stroke="#B12A90" points="1,1 2,1.83 3,2.61 4,3.35 5.5,4.39 7,5.34 9,6.5 11,7.54 13.5,8.69 16,9.69 19,10.72 22,11.59 26,12.55 30,13.32 37,14.33 44,15"/>
<polyline vector-effect="non-scaling-stroke" stroke-width="4.2" stroke="#F89540" points="1,1 2,1.97 3,2.89 4,3.76 5.5,4.97 7,6.08 9,7.43 11,8.63 13.5,9.95 16,11.1 19,12.27 22,13.26 25,14.1 28.9,15"/>
<polyline vector-effect="non-scaling-stroke" stroke-width="4.2" stroke="#FBD424" points="1,1 2,1.83 3,2.62 4,3.38 5.5,4.46 7,5.46 9,6.7 11,7.83 13.5,9.11 16,10.25 19,11.46 22,12.51 26,13.71 30,14.71 35,15.73 40,16.55 46,17.31 52,17.88 59,18.39 66,18.76 71.9,19"/>
<polyline vector-effect="non-scaling-stroke" stroke-width="4.2" stroke="#FDB32F" points="1,1 2,1.88 3,2.72 4,3.52 5.5,4.65 7,5.7 9,6.99 11,8.16 13.5,9.48 16,10.65 19,11.88 22,12.95 26,14.15 30,15.15 35,16.16 40,16.95 46,17.68 52,18.23 58,18.65 64.9,19"/>
<polyline vector-effect="non-scaling-stroke" stroke-width="4.2" stroke="#FCA636" points="1,1 2,1.93 3,2.8 4,3.64 5.5,4.81 7,5.9 9,7.23 11,8.42 13.5,9.75 16,10.93 19,12.15 22,13.2 26,14.37 30,15.32 35,16.26 40,17 45,17.56 49.9,18"/>
<polyline vector-effect="non-scaling-stroke" stroke-width="4.2" stroke="#CC4778" points="1,1 2,1.98 3,2.91 4,3.79 5.5,5.05 7,6.22 9,7.65 11,8.95 13.5,10.41 16,11.7 19,13.07 22,14.25 26,15.58 30,16.68 35,17.79 40,18.67 45,19.35 50.9,20"/>
<polyline vector-effect="non-scaling-stroke" stroke-width="4.2" stroke="#D8576B" points="1,1 2,1.98 3,2.9 4,3.79 5.5,5.04 7,6.19 9,7.61 11,8.9 13.5,10.33 16,11.6 19,12.94 22,14.09 26,15.37 30,16.43 35,17.5 40,18.33 46,19.09 52,19.65 56.8,20"/>
<polyline vector-effect="non-scaling-stroke" stroke-width="4.2" stroke="#EE7B51" points="1,1 2,1.93 3,2.82 4,3.66 5.5,4.87 7,5.99 9,7.38 11,8.64 13.5,10.07 16,11.35 19,12.7 22,13.88 26,15.23 30,16.35 35,17.49 40,18.4 46,19.26 52,19.91 59,20.48 66,20.89 68.9,21"/>
<polyline vector-effect="non-scaling-stroke" stroke-width="4.2" stroke="#E56B5D" points="1,1 2,1.98 3,2.91 4,3.8 5.5,5.06 7,6.23 9,7.67 11,8.99 13.5,10.47 16,11.78 19,13.17 22,14.38 26,15.75 30,16.88 35,18.03 40,18.94 46,19.79 52,20.42 59.9,21"/>
<polyline vector-effect="non-scaling-stroke" stroke-width="4.2" stroke="#F2F022" points="1,1 2,1.73 3,2.44 4,3.14 5.5,4.14 7,5.09 9,6.31 11,7.44 13.5,8.78 16,10.02 19,11.4 22,12.66 26,14.17 30,15.52 35,16.99 40,18.26 46,19.57 52,20.66 59,21.71 66,22.56 74,23.35 82.9,24"/>
<polyline vector-effect="non-scaling-stroke" stroke-width="4.2" stroke="#F0F921" points="1,1 2,1.95 3,2.87 4,3.75 5.5,5.0 7,6.18 9,7.63 11,8.97 13.5,10.5 16,11.87 19,13.35 22,14.64 26,16.14 30,17.41 35,18.73 40,19.79 46,20.81 52,21.61 59,22.31 66,22.84 73,23.23 80,23.6 87,23.9"/>
</g>
<rect class="bd" x="119.8" y="1120.8" width="560.7" height="383.4"/>

<!-- ============ Ripley K ============ -->
<text x="763.7" y="1104.5" font-size="20.3" textLength="188.2" lengthAdjust="spacingAndGlyphs">Ripley's K (border)</text>
<path class="mn" d="M782.9 1120.2V1504.2M809.8 1120.2V1504.2M836.6 1120.2V1504.2M863.5 1120.2V1504.2M890.3 1120.2V1504.2M763.7 1158.2H902.5M763.7 1228.5H902.5M763.7 1298.9H902.5M763.7 1369.2H902.5M763.7 1439.6H902.5"/>
<path class="mj" d="M769.5 1120.2V1504.2M796.35 1120.2V1504.2M823.2 1120.2V1504.2M850.05 1120.2V1504.2M876.9 1120.2V1504.2M763.7 1123H902.5M763.7 1193.4H902.5M763.7 1263.7H902.5M763.7 1334.1H902.5M763.7 1404.4H902.5M763.7 1474.8H902.5"/>
<path class="ti" d="M759.3 1123H763.7M759.3 1193.4H763.7M759.3 1263.7H763.7M759.3 1334.1H763.7M759.3 1404.4H763.7M759.3 1474.8H763.7M769.5 1504.2V1508.6M796.35 1504.2V1508.6M823.2 1504.2V1508.6M850.05 1504.2V1508.6M876.9 1504.2V1508.6"/>
<g class="tk" text-anchor="end">
<text x="755.3" y="1127.5">1750</text><text x="755.3" y="1197.9">1500</text><text x="755.3" y="1268.2">1250</text><text x="755.3" y="1338.6">1000</text><text x="755.3" y="1408.9">750</text><text x="755.3" y="1479.3">500</text>
</g>
<g class="tk" text-anchor="middle">
<text x="769.5" y="1524">0</text><text x="796.35" y="1524">5</text><text x="823.2" y="1524">10</text><text x="850.05" y="1524">15</text><text x="876.9" y="1524">20</text>
</g>
<text class="at" x="832.7" y="1544" text-anchor="middle">r</text>
<text class="at" transform="translate(712.7,1311.7) rotate(-90)" text-anchor="middle">K(r)</text>
<g clip-path="url(#cK)">
<path transform="matrix(5.37,0,0,-0.28144,769.5,1615.52)" fill="none" stroke="#000" stroke-width="2.3" vector-effect="non-scaling-stroke" d="M0,495 H5.69 V509 H7.61 V554 H8.26 V454 H8.77 V467 H9.35 L9.42,509 L9.57,537 L9.86,563 L10,639 L10.4,656 L10.76,681 L10.87,701 L10.94,695 H11.3 V995 H11.67 L11.74,1148 L12.03,1168 L12.1,1149 L12.21,918 L12.43,1021 L12.57,1087 H14.86 L14.93,1106 H15.43 L15.51,1221 H16.01 L16.09,1425 H16.81 L16.88,1609 L16.96,1669 L17.1,1702 H18.84"/>
</g>
<rect class="bd" x="763.7" y="1120.2" width="138.8" height="384"/>

<!-- ============ L(r)-r ============ -->
<text x="966.1" y="1104.5" font-size="20.3" textLength="62" lengthAdjust="spacingAndGlyphs">L(r) - r</text>
<path class="mn" d="M984.9 1120.2V1504.2M1011.8 1120.2V1504.2M1038.6 1120.2V1504.2M1065.5 1120.2V1504.2M1092.3 1120.2V1504.2M965.3 1209.1H1104.5M965.3 1320.3H1104.5M965.3 1431.5H1104.5"/>
<path class="mj" d="M971.5 1120.2V1504.2M998.35 1120.2V1504.2M1025.2 1120.2V1504.2M1052.05 1120.2V1504.2M1078.9 1120.2V1504.2M965.3 1153.5H1104.5M965.3 1264.7H1104.5M965.3 1375.9H1104.5M965.3 1487.1H1104.5"/>
<path class="ti" d="M960.9 1153.5H965.3M960.9 1264.7H965.3M960.9 1375.9H965.3M960.9 1487.1H965.3M971.5 1504.2V1508.6M998.35 1504.2V1508.6M1025.2 1504.2V1508.6M1052.05 1504.2V1508.6M1078.9 1504.2V1508.6"/>
<g class="tk" text-anchor="end">
<text x="956.9" y="1158">12</text><text x="956.9" y="1269.2">8</text><text x="956.9" y="1380.4">4</text><text x="956.9" y="1491.6">0</text>
</g>
<g class="tk" text-anchor="middle">
<text x="971.5" y="1524">0</text><text x="998.35" y="1524">5</text><text x="1025.2" y="1524">10</text><text x="1052.05" y="1524">15</text><text x="1078.9" y="1524">20</text>
</g>
<text class="at" x="1034.7" y="1544" text-anchor="middle">r</text>
<text class="at" transform="translate(932.3,1313.3) rotate(-90)" text-anchor="middle">L(r) - r</text>
<line x1="965.3" y1="1487.1" x2="1104.5" y2="1487.1" stroke="#000" stroke-width="1.3" stroke-dasharray="6.5 4.5"/>
<g clip-path="url(#cL)">
<path transform="matrix(5.37,0,0,-27.8,971.5,1487.1)" fill="none" stroke="#000" stroke-width="2.3" vector-effect="non-scaling-stroke" d="M0,12.54 L5.69,6.96 L5.87,6.89 L7.6,5.14 L7.75,5.61 L8.22,5.09 L8.22,3.77 L8.7,3.29 L8.85,3.24 L9.37,2.85 L9.55,3.52 L9.73,3.41 L9.91,3.52 L10.02,4.27 L10.38,4.07 L10.7,3.79 L10.85,4.11 L11.24,3.62 L11.28,6.5 L11.68,6.12 L11.82,7.29 L12.25,7.17 L12.25,4.79 L12.43,5.56 L12.61,6 L14.88,3.72 L15.39,3.36 L15.46,4.25 L16.04,3.69 L16.11,5.19 L16.76,4.53 L16.86,5.79 L17.05,6.17 L18.85,4.46"/>
</g>
<rect class="bd" x="965.3" y="1120.2" width="139.2" height="384"/>

<!-- ============ Pair correlation ============ -->
<text x="1186" y="1104.5" font-size="20.3">Pair correlation</text>
<path class="mn" d="M1204.5 1120.2V1504.2M1231.4 1120.2V1504.2M1258.2 1120.2V1504.2M1285.1 1120.2V1504.2M1311.9 1120.2V1504.2M1185.2 1173.6H1324.5M1185.2 1299H1324.5M1185.2 1424.4H1324.5"/>
<path class="mj" d="M1191.1 1120.2V1504.2M1217.95 1120.2V1504.2M1244.8 1120.2V1504.2M1271.65 1120.2V1504.2M1298.5 1120.2V1504.2M1185.2 1236.3H1324.5M1185.2 1361.7H1324.5M1185.2 1487.1H1324.5"/>
<path class="ti" d="M1180.8 1236.3H1185.2M1180.8 1361.7H1185.2M1180.8 1487.1H1185.2M1191.1 1504.2V1508.6M1217.95 1504.2V1508.6M1244.8 1504.2V1508.6M1271.65 1504.2V1508.6M1298.5 1504.2V1508.6"/>
<g class="tk" text-anchor="end">
<text x="1176.9" y="1240.8">4000</text><text x="1176.9" y="1366.2">2000</text><text x="1176.9" y="1491.6">0</text>
</g>
<g class="tk" text-anchor="middle">
<text x="1191.1" y="1524">0</text><text x="1217.95" y="1524">5</text><text x="1244.8" y="1524">10</text><text x="1271.65" y="1524">15</text><text x="1298.5" y="1524">20</text>
</g>
<text class="at" x="1255" y="1544" text-anchor="middle">r</text>
<text class="at" transform="translate(1136.4,1311.5) rotate(-90)" text-anchor="middle">g(r)</text>
<g clip-path="url(#cG)">
<path transform="matrix(5.37,0,0,-0.0627,1191.1,1487.1)" fill="none" stroke="#000" stroke-width="2.3" vector-effect="non-scaling-stroke" d="M0.05,7000 L0.12,5200 L0.3,2200 L0.6,0 L3,6 L6,-5 L10,4 L14,-3 L18,3 L25,0"/>
</g>
<rect class="bd" x="1185.2" y="1120.2" width="139.3" height="384"/>

</g>
</svg>
</body></html>
